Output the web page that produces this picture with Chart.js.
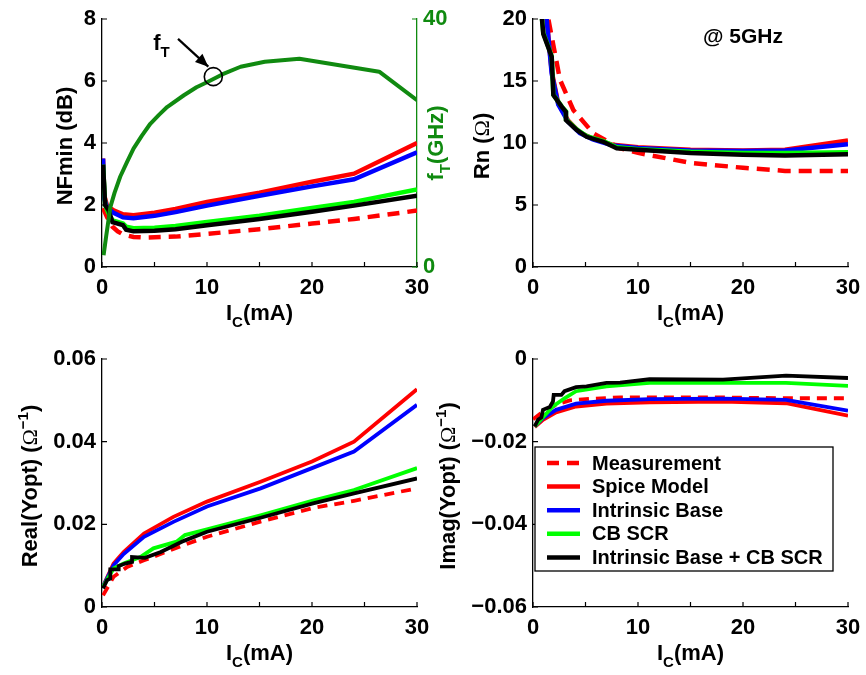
<!DOCTYPE html>
<html>
<head>
<meta charset="utf-8">
<script src="https://cdn.jsdelivr.net/npm/chart.js@4.4.1/dist/chart.umd.min.js"></script>
<style>
  body { margin: 0; background: #fff; }
  canvas { position: absolute; left: 0; top: 0; }
</style>
</head>
<body>
<canvas id="nf" width="866" height="675"></canvas>
<canvas id="rn" width="866" height="675"></canvas>
<canvas id="re" width="866" height="675"></canvas>
<canvas id="im" width="866" height="675"></canvas>
<script>
// ---- ticks ----
const icTicks = [0, 5, 10, 15, 20, 25, 30];
const icLabels = [0, 10, 20, 30];
const nfTicks = [0, 2, 4, 6, 8];
const ftTicks = [0, 40];
const rnTicks = [0, 5, 10, 15, 20];
const reTicks = [0, 0.02, 0.04, 0.06];
const reLabels = ['0', '0.02', '0.04', '0.06'];
const imTicks = [-0.06, -0.04, -0.02, 0];
const imLabels = ['\u22120.06', '\u22120.04', '\u22120.02', '0'];

const seriesNames = ['Measurement', 'Spice Model', 'Intrinsic Base', 'CB SCR', 'Intrinsic Base + CB SCR'];

// ---- NFmin (dB) ----
const nfMeasIc = [0.1, 0.5, 1, 1.5, 2, 3, 4, 7, 10, 15, 20, 24, 30];
const nfMeas   = [1.9, 1.6, 1.3, 1.15, 1.05, 0.97, 0.95, 0.98, 1.07, 1.22, 1.4, 1.55, 1.82];
const nfModelIc = [0.1, 0.22, 0.5, 1.1, 2, 3, 5, 7, 10, 15, 20, 24, 30];
const nfSpice  = [3.5, 2.3, 1.95, 1.83, 1.7, 1.67, 1.75, 1.87, 2.1, 2.4, 2.75, 3.01, 4.0];
const nfIntr   = [3.5, 2.2, 1.9, 1.75, 1.6, 1.57, 1.65, 1.77, 1.98, 2.3, 2.6, 2.83, 3.7];
const nfScrIc  = [0.1, 0.3, 0.6, 1, 2, 2.3, 3, 5, 7, 10, 15, 20, 24, 30];
const nfCbscr  = [3.3, 2.0, 1.75, 1.5, 1.4, 1.3, 1.25, 1.27, 1.32, 1.45, 1.65, 1.9, 2.1, 2.5];
const nfBoth   = [3.3, 2.0, 1.85, 1.45, 1.35, 1.2, 1.15, 1.17, 1.22, 1.35, 1.55, 1.78, 1.98, 2.3];

// ---- fT (GHz) ----
const ftIc  = [0.15, 0.4, 0.8, 1.2, 1.74, 2.4, 3, 3.8, 4.6, 5.4, 6.2, 7.8, 9, 10, 11.5, 13.2, 15.5, 18.8, 26.4, 30];
const ftGhz = [1.9, 5.0, 9.7, 12.0, 14.6, 17.0, 19.1, 21.2, 23.1, 24.5, 25.8, 27.7, 29.0, 29.8, 31.1, 32.3, 33.1, 33.6, 31.5, 26.9];
const ftMark = [10.6, 30.7];

// ---- Rn (ohm) ----
const rnMeasIc = [1.1, 1.46, 2.57, 3.84, 5.74, 8.29, 10, 15, 20, 24, 30];
const rnMeas   = [21.6, 20, 15.1, 12.66, 10.78, 9.57, 9.2, 8.4, 8.0, 7.75, 7.75];
const rnModelIc = [1.0, 1.3, 1.78, 2.4, 3.35, 4.46, 5.7, 7.6, 10, 15, 20, 24, 30];
const rnSpice  = [22, 20, 15.8, 13.2, 11.8, 10.85, 10.35, 9.85, 9.65, 9.45, 9.4, 9.45, 10.2];
const rnIntr   = [22, 20, 15.6, 13.1, 11.7, 10.8, 10.3, 9.8, 9.6, 9.4, 9.35, 9.4, 9.9];
const rnScrIc  = [0.8, 0.98, 1.78, 1.94, 2.73, 3.14, 3.14, 4.16, 5.11, 6.7, 7.97, 10, 15, 20, 24, 30];
const rnCbscr  = [20.5, 18.9, 17.0, 13.9, 12.95, 12.55, 11.9, 11.1, 10.55, 10.15, 9.65, 9.5, 9.3, 9.2, 9.2, 9.25];
const rnBoth   = [20.5, 18.8, 16.96, 13.87, 12.93, 12.5, 11.85, 11.05, 10.5, 10.1, 9.57, 9.45, 9.2, 9.05, 9.0, 9.1];

// ---- Real(Yopt) ----
const reMeasIc = [0.1, 1.1, 2.4, 4, 7.8, 10, 15, 20, 24, 30];
const reMeas   = [0.0028, 0.0073, 0.0097, 0.0113, 0.015, 0.017, 0.0206, 0.0239, 0.0257, 0.0287];
const reModelIc = [0.1, 1.1, 2.06, 4, 6.8, 10, 15.1, 20, 24, 30];
const reSpice  = [0.005, 0.0105, 0.0133, 0.0178, 0.0218, 0.0255, 0.0303, 0.0352, 0.040, 0.0527];
const reIntr   = [0.005, 0.0101, 0.0128, 0.017, 0.0206, 0.0243, 0.0287, 0.0336, 0.0376, 0.0489];
const reScrIc  = [0.1, 1.1, 2.06, 3.65, 4.9, 7.1, 7.9, 10, 15.1, 20, 24, 30];
const reCbscr  = [0.0049, 0.0093, 0.0105, 0.0121, 0.0142, 0.0158, 0.0174, 0.0188, 0.0222, 0.0257, 0.0283, 0.0336];
const reBothIc = [0.1, 0.48, 0.79, 0.79, 1.59, 1.59, 2.2, 2.86, 2.86, 4.1, 5.6, 7.8, 10, 15.1, 20, 24, 30];
const reBoth   = [0.0045, 0.0065, 0.0069, 0.0091, 0.0091, 0.0099, 0.0105, 0.0109, 0.0121, 0.0119, 0.0133, 0.016, 0.0182, 0.0216, 0.025, 0.0275, 0.0311];

// ---- Imag(Yopt) ----
const imMeasIc = [0, 0.95, 2.2, 3.5, 5.7, 8.3, 18, 24, 30];
const imMeas   = [-0.0146, -0.0127, -0.0111, -0.01, -0.0096, -0.0093, -0.0093, -0.0095, -0.0095];
const imModelIc = [0.16, 0.95, 2.2, 4.1, 7, 11.1, 18.1, 24.1, 30];
const imSpice  = [-0.0165, -0.0147, -0.0129, -0.0115, -0.0108, -0.0105, -0.0103, -0.0107, -0.0137];
const imIntr   = [-0.0163, -0.0143, -0.0123, -0.0108, -0.0101, -0.0097, -0.0096, -0.0099, -0.0125];
const imScrIc  = [0.16, 0.95, 1.9, 3.0, 4.1, 7, 11.1, 18.1, 24.1, 30];
const imCbscr  = [-0.0163, -0.0141, -0.0115, -0.0095, -0.0078, -0.0066, -0.0058, -0.0058, -0.0058, -0.0065];
const imBothIc = [0.16, 0.48, 0.8, 0.95, 1.6, 1.9, 1.97, 2.7, 3.0, 4.1, 5.1, 7, 8.3, 11.1, 18.1, 24.1, 30];
const imBoth   = [-0.0163, -0.0147, -0.0141, -0.0123, -0.0116, -0.0103, -0.0087, -0.0087, -0.0078, -0.0068, -0.0066, -0.0058, -0.0057, -0.0049, -0.005, -0.004, -0.0046];

// ---- style ----
Chart.defaults.font.family = '"Liberation Sans", Arial, sans-serif';
Chart.defaults.font.weight = 'bold';
Chart.defaults.font.size = 22;
const FT_GREEN = '#108a10';
const colors = ['#ff0000', '#ff0000', '#0000ff', '#00ff00', '#000000'];

const pts = (xs, ys) => xs.map((x, i) => ({ x: x, y: ys[i] }));

function sets(groups, lw, dash) {
  // groups: [[ic, vals], ...] in legend order
  return groups.map((g, i) => ({
    label: seriesNames[i],
    data: pts(g[0], g[1]),
    borderColor: colors[i],
    borderWidth: lw,
    borderDash: i === 0 ? dash : [],
    pointRadius: 0,
    fill: false,
    tension: 0,
    order: 5 - i
  }));
}

function xScale() {
  return {
    type: 'linear', min: 0, max: 30,
    afterBuildTicks: s => { s.ticks = icTicks.map(v => ({ value: v })); },
    afterFit: s => { s.height = 30; s.paddingLeft = s.paddingRight = s.paddingTop = s.paddingBottom = 0; },
    ticks: { callback: v => icLabels.includes(v) ? String(v) : '', padding: 8, color: '#000', maxRotation: 0, autoSkip: false },
    grid: { display: false, drawTicks: false },
    border: { color: '#000', width: 1.3 }
  };
}

function yScale(ticks, labels, pos, color, w) {
  return {
    type: 'linear', position: pos, min: ticks[0], max: ticks[ticks.length - 1],
    afterBuildTicks: s => { s.ticks = ticks.map(v => ({ value: v })); },
    afterFit: s => { s.width = w; s.paddingLeft = s.paddingRight = s.paddingTop = s.paddingBottom = 0; },
    ticks: { callback: (v, i) => labels[i], padding: 6, color: color, autoSkip: false },
    grid: { display: false, drawTicks: false },
    border: { color: color, width: 1.3 }
  };
}

// inward tick marks like the original
const inwardTicks = {
  id: 'inwardTicks',
  afterDatasetsDraw(chart) {
    const ctx = chart.ctx;
    Object.values(chart.scales).forEach(s => {
      ctx.save();
      ctx.strokeStyle = s.options.border.color;
      ctx.lineWidth = 1.2;
      ctx.beginPath();
      s.ticks.forEach(t => {
        const p = s.getPixelForValue(t.value);
        if (s.isHorizontal()) { ctx.moveTo(p, s.top); ctx.lineTo(p, s.top - 5); }
        else if (s.position === 'left') { ctx.moveTo(s.right, p); ctx.lineTo(s.right + 5, p); }
        else { ctx.moveTo(s.left, p); ctx.lineTo(s.left - 5, p); }
      });
      ctx.stroke();
      ctx.restore();
    });
  }
};

// text with sub/superscripts; parts: [text, kind] kind: '', 'sub', 'sup', 'sym'
function partFont(kind, size) {
  if (kind === 'sub' || kind === 'sup') return 'bold ' + Math.round(size * 0.7) + 'px "Liberation Sans"';
  if (kind === 'sym') return 'normal ' + size + 'px "Liberation Serif"';
  return 'bold ' + size + 'px "Liberation Sans"';
}
function drawRich(ctx, parts, x, y, size, color, rotate) {
  ctx.save();
  ctx.translate(x, y);
  if (rotate) ctx.rotate(-Math.PI / 2);
  ctx.fillStyle = color;
  ctx.textBaseline = 'alphabetic';
  ctx.textAlign = 'left';
  let w = 0;
  parts.forEach(p => { ctx.font = partFont(p[1], size); w += ctx.measureText(p[0]).width; });
  let cx = -w / 2;
  parts.forEach(p => {
    ctx.font = partFont(p[1], size);
    const dy = p[1] === 'sub' ? size * 0.3 : p[1] === 'sup' ? -size * 0.42 : 0;
    ctx.fillText(p[0], cx, dy);
    cx += ctx.measureText(p[0]).width;
  });
  ctx.restore();
}

const icTitle = [['I', ''], ['C', 'sub'], ['(mA)', '']];
function titles(yParts, yOff, extra) {
  return {
    id: 'titles',
    afterDraw(chart) {
      const a = chart.chartArea, ctx = chart.ctx;
      drawRich(ctx, icTitle, (a.left + a.right) / 2, a.bottom + 53, 22, '#000', false);
      drawRich(ctx, yParts, a.left - yOff, (a.top + a.bottom) / 2 + 3, 22, '#000', true);
      if (extra) extra(chart);
    }
  };
}

function panel(id, datasets, scales, pad, plugins) {
  return new Chart(document.getElementById(id), {
    type: 'line',
    data: { datasets: datasets },
    options: {
      responsive: false,
      animation: false,
      events: [],
      layout: { padding: pad },
      plugins: { legend: { display: false }, tooltip: { enabled: false } },
      scales: scales
    },
    plugins: [inwardTicks].concat(plugins)
  });
}

const YW = 80; // left axis box width

// ---- NFmin + fT ----
const nfSets = sets([[nfMeasIc, nfMeas], [nfModelIc, nfSpice], [nfModelIc, nfIntr], [nfScrIc, nfCbscr], [nfScrIc, nfBoth]], 4.5, [12, 8]);
nfSets.push({
  label: 'fT', data: pts(ftIc, ftGhz), yAxisID: 'y2', borderColor: FT_GREEN, borderWidth: 4,
  pointRadius: 0, fill: false, tension: 0, borderJoinStyle: 'round', order: 0
});
panel('nf', nfSets,
  { x: xScale(), y: yScale(nfTicks, nfTicks.map(String), 'left', '#000', YW), y2: yScale(ftTicks, ftTicks.map(String), 'right', FT_GREEN, 40) },
  { left: 102 - YW, right: 866 - 417 - 40, top: 19, bottom: 675 - 267 - 30 },
  [titles([['NFmin (dB)', '']], 30, chart => {
    const { ctx, scales: { x, y, y2 } } = chart;
    drawRich(ctx, [['f', ''], ['T', 'sub'], ['(GHz)', '']], chart.chartArea.right + 26, 143, 22, FT_GREEN, true);
    // circle on fT curve
    const cx = x.getPixelForValue(ftMark[0]), cy = y2.getPixelForValue(ftMark[1]);
    ctx.save();
    ctx.strokeStyle = '#000'; ctx.lineWidth = 1.6;
    ctx.beginPath(); ctx.arc(cx, cy, 9, 0, Math.PI * 2); ctx.stroke();
    // arrow
    const x0 = x.getPixelForValue(7.24), y0 = y.getPixelForValue(7.36);
    const x1 = cx - 5, y1 = cy - 10;
    ctx.lineWidth = 2.2;
    ctx.beginPath(); ctx.moveTo(x0, y0); ctx.lineTo(x1, y1); ctx.stroke();
    const ang = Math.atan2(y1 - y0, x1 - x0);
    ctx.fillStyle = '#000';
    ctx.beginPath();
    ctx.moveTo(x1, y1);
    ctx.lineTo(x1 - 13 * Math.cos(ang) + 5.5 * Math.sin(ang), y1 - 13 * Math.sin(ang) - 5.5 * Math.cos(ang));
    ctx.lineTo(x1 - 13 * Math.cos(ang) - 5.5 * Math.sin(ang), y1 - 13 * Math.sin(ang) + 5.5 * Math.cos(ang));
    ctx.closePath(); ctx.fill();
    ctx.restore();
    const lx = x.getPixelForValue(4.8), ly = y.getPixelForValue(7.0);
    drawRich(ctx, [['f', ''], ['T', 'sub']], lx + 9, ly, 22, '#000', false);
  })]
);

// ---- Rn ----
panel('rn',
  sets([[rnMeasIc, rnMeas], [rnModelIc, rnSpice], [rnModelIc, rnIntr], [rnScrIc, rnCbscr], [rnScrIc, rnBoth]], 4.5, [13, 8]),
  { x: xScale(), y: yScale(rnTicks, rnTicks.map(String), 'left', '#000', YW) },
  { left: 533 - YW, right: 866 - 848, top: 19, bottom: 675 - 267 - 30 },
  [titles([['Rn (', ''], ['\u03A9', 'sym'], [')', '']], 44, chart => {
    const { ctx, scales: { x, y } } = chart;
    drawRich(ctx, [['@ 5GHz', '']], x.getPixelForValue(20), y.getPixelForValue(18.1), 21, '#000', false);
  })]
);

// ---- Real(Yopt) ----
panel('re',
  sets([[reMeasIc, reMeas], [reModelIc, reSpice], [reModelIc, reIntr], [reScrIc, reCbscr], [reBothIc, reBoth]], 3.8, [10, 7]),
  { x: xScale(), y: yScale(reTicks, reLabels, 'left', '#000', YW) },
  { left: 102 - YW, right: 866 - 417, top: 359, bottom: 675 - 607 - 30 },
  [titles([['Real(Yopt) (', ''], ['\u03A9', 'sym'], ['\u22121', 'sup'], [')', '']], 65)]
);

// ---- Imag(Yopt) + legend ----
const legendBox = {
  id: 'legendBox',
  afterDraw(chart) {
    const ctx = chart.ctx, a = chart.chartArea;
    const bx = a.left + 2, by = a.top + 88, bw = 298, bh = 124;
    ctx.save();
    ctx.fillStyle = '#fff'; ctx.fillRect(bx, by, bw, bh);
    ctx.strokeStyle = '#000'; ctx.lineWidth = 1.3; ctx.strokeRect(bx, by, bw, bh);
    ctx.font = 'bold 20px "Liberation Sans"';
    ctx.textBaseline = 'middle';
    chart.data.datasets.forEach((d, i) => {
      const ry = by + 16 + i * 23.6;
      ctx.strokeStyle = d.borderColor; ctx.lineWidth = 4.5;
      ctx.setLineDash(i === 0 ? [12, 8] : []);
      ctx.beginPath(); ctx.moveTo(bx + 12, ry); ctx.lineTo(bx + 45, ry); ctx.stroke();
      ctx.setLineDash([]);
      ctx.fillStyle = '#000';
      ctx.fillText(d.label, bx + 57, ry + 1);
    });
    ctx.restore();
  }
};
panel('im',
  sets([[imMeasIc, imMeas], [imModelIc, imSpice], [imModelIc, imIntr], [imScrIc, imCbscr], [imBothIc, imBoth]], 3.8, [10, 7]),
  { x: xScale(), y: yScale(imTicks, imLabels, 'left', '#000', YW) },
  { left: 533 - YW, right: 866 - 848, top: 359, bottom: 675 - 607 - 30 },
  [titles([['Imag(Yopt) (', ''], ['\u03A9', 'sym'], ['\u22121', 'sup'], [')', '']], 78), legendBox]
);
</script>
</body>
</html>
